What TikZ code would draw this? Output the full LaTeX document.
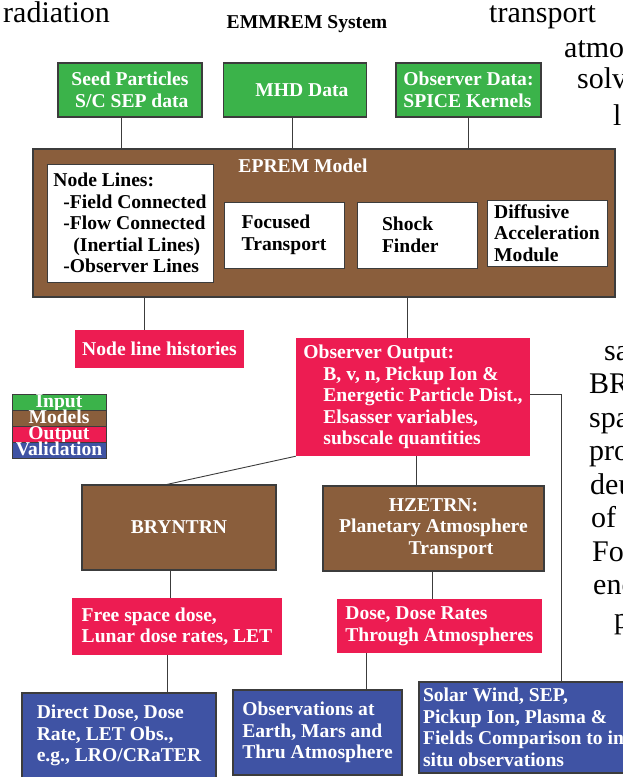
\documentclass[tikz,border=0pt]{standalone}
\usepackage{fontspec}
\setmainfont{Liberation Serif}
\usetikzlibrary{positioning}
\definecolor{inputgreen}{RGB}{59,179,74}
\definecolor{modelbrown}{RGB}{138,94,60}
\definecolor{outputred}{RGB}{237,28,82}
\definecolor{validblue}{RGB}{63,83,164}
\definecolor{linegray}{RGB}{60,60,60}
\begin{document}
\begin{tikzpicture}[x=1pt, y=-1pt,
  every node/.style={font=\fontsize{19.6}{21.5}\selectfont\bfseries, text=white, inner sep=0pt},
  input/.style={draw=linegray, line width=1.2pt, fill=inputgreen},
  model/.style={draw=linegray, line width=1.2pt, fill=modelbrown},
  modul/.style={draw=linegray, line width=1pt, fill=white, text=black},
  output/.style={fill=outputred},
  valid/.style={draw=linegray, line width=1.2pt, fill=validblue},
  legend/.style={draw=linegray, line width=1pt, minimum width=94pt, minimum height=16pt,
    text height=12pt, text depth=2pt, outer sep=0pt},
  link/.style={draw=linegray, line width=0.9pt},
  stray/.style={font=\fontsize{30}{33}\selectfont, text=black, anchor=base west}]
  \useasboundingbox (0,0) rectangle (623,777);
  \clip (0,0) rectangle (623,777);

  % words of the page text around the figure
  \node[stray] (w-radiation) at (3,22) {radiation};
  \node[stray] (w-transport) at (489,22) {transport};
  \node[stray] (w-atmo) at (564,57) {atmo};
  \node[stray] (w-solv) at (577,88) {solv};
  \node[stray] (w-l) at (613,125) {l};
  \foreach \w/\x/\y in {sa/604/360, BR/589/393.5, spa/589/427, pro/589/460.5,
      deu/590/494, of/591/527.5, Fo/592/561, enc/593/594.5, p/614/628}
    \node[stray] (w-\w) at (\x,\y) {\w};

  % inputs
  \node[text=black] (title) at (307,24) {EMMREM System};
  \node[input, minimum width=144pt, minimum height=54pt, align=right] (seed) at (130,90)
    {Seed Particles\\S/C SEP data};
  \node[input, minimum width=143pt, minimum height=54pt] (mhd) at (295,90) {\hspace*{14pt}MHD Data};
  \node[input, minimum width=145pt, minimum height=54pt, align=left] (obsdata) at (468.5,90)
    {Observer Data:\\SPICE Kernels};

  % EPREM
  \node[model, minimum width=582pt, minimum height=148pt] (eprem) at (324,223) {};
  \node (eprem-title) at (303,166) {EPREM Model};
  \node[modul, minimum width=166pt, minimum height=118pt, align=left] (nodelines) at (130,223)
    {Node Lines:\\\hspace*{10pt}-Field Connected\\\hspace*{10pt}-Flow Connected\\
     \hspace*{20pt}(Inertial Lines)\\\hspace*{10pt}-Observer Lines};
  \node[modul, minimum width=120pt, minimum height=66pt, align=left] (focused) at (284,235)
    {Focused\\Transport};
  \node[modul, minimum width=120pt, minimum height=66pt, align=left, text width=70pt] (shock) at (417,235)
    {Shock\\Finder};
  \node[modul, minimum width=120pt, minimum height=66pt, align=left] (diffusive) at (547,233)
    {Diffusive\\Acceleration\\Module};

  \draw[link] ([xshift=-9pt]seed.south) -- ([xshift=-9pt]seed.south |- eprem.north);
  \draw[link] ([xshift=-3pt]mhd.south) -- ([xshift=-3pt]mhd.south |- eprem.north);
  \draw[link] (obsdata.south) -- (obsdata.south |- eprem.north);

  % outputs
  \node[output, minimum width=169pt, minimum height=38pt] (nlhist) at (159.5,349) {Node line histories};
  \node[output, minimum width=234pt, minimum height=118pt, align=left] (obsout) at (413,397)
    {Observer Output:\\\hspace*{20pt}B, v, n, Pickup Ion \&\\\hspace*{20pt}Energetic Particle Dist.,\\
     \hspace*{20pt}Elsasser variables,\\\hspace*{20pt}subscale quantities};
  \draw[link] ([xshift=-15pt]nlhist.north) -- ([xshift=-15pt]nlhist.north |- eprem.south);
  \draw[link] ([xshift=-6pt]obsout.north) -- ([xshift=-6pt]obsout.north |- eprem.south);

  % legend
  \node[legend, fill=inputgreen] (leg-in) at (59,402.5) {Input};
  \node[legend, fill=modelbrown, below=0pt of leg-in] (leg-mod) {Models};
  \node[legend, fill=outputred, below=0pt of leg-mod] (leg-out) {Output};
  \node[legend, fill=validblue, below=0pt of leg-out] (leg-val) {Validation};

  % transport codes
  \node[model, minimum width=194pt, minimum height=85pt] (bryntrn) at (179,527.5) {BRYNTRN};
  \node[model, minimum width=221pt, minimum height=85pt, align=center] (hzetrn) at (433.5,528.5)
    {HZETRN:\\Planetary Atmosphere\\\hspace*{35pt}Transport};
  \draw[link] (obsout.south west) -- ([xshift=-12pt]bryntrn.north);
  \draw[link] ([xshift=-17.5pt]hzetrn.north) -- ([xshift=-17.5pt]hzetrn.north |- obsout.south);

  \node[output, minimum width=210pt, minimum height=57pt, align=left] (freesp) at (177,626.5)
    {Free space dose,\\Lunar dose rates, LET};
  \node[output, minimum width=205pt, minimum height=54pt, align=left] (dosebox) at (439.5,626)
    {Dose, Dose Rates\\Through Atmospheres};
  \draw[link] ([xshift=-9pt]bryntrn.south) -- ([xshift=-9pt]bryntrn.south |- freesp.north);
  \draw[link] ([xshift=-1.5pt]hzetrn.south) -- ([xshift=-1.5pt]hzetrn.south |- dosebox.north);

  % validation
  \node[valid, minimum width=194pt, minimum height=85pt, align=left] (direct) at (119,735.5)
    {Direct Dose, Dose\\Rate, LET Obs.,\\e.g., LRO/CRaTER};
  \node[valid, minimum width=169pt, minimum height=85pt, align=left] (observ) at (317.5,732.5)
    {Observations at\\Earth, Mars and\\Thru Atmosphere};
  \node[valid, minimum width=209pt, minimum height=91pt, align=left] (solar) at (523.5,727.5)
    {Solar Wind, SEP,\\Pickup Ion, Plasma \&\\Fields Comparison to in\\situ observations};
  \draw[link] ([xshift=-10pt]freesp.south) -- ([xshift=-10pt]freesp.south |- direct.north);
  \draw[link] ([xshift=-73.5pt]dosebox.south) -- ([xshift=-73.5pt]dosebox.south |- observ.north);
  \draw[link] ([yshift=3pt]obsout.east) -| ([xshift=37.5pt]solar.north);
\end{tikzpicture}
\end{document}
